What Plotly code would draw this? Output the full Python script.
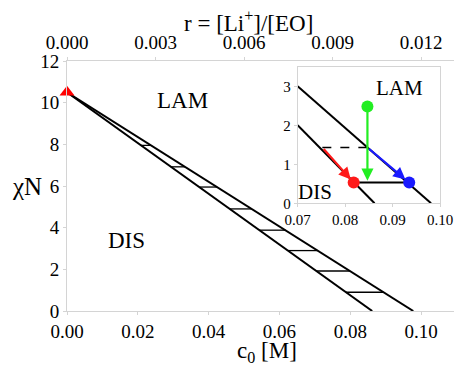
import plotly.graph_objects as go

# ---- data ----
# phase boundaries (main plot): c0 [M], chiN
lower_c = [0.0, 0.0862]
lower_chi = [10.5, 0.0]
upper_c = [0.0, 0.0978]
upper_chi = [10.5, 0.0]
# tie lines (main plot)
tie_chi = [0.9, 1.92, 2.9, 3.88, 4.9, 5.95, 6.92, 7.95]
tie_left = [0.0788, 0.0704, 0.0624, 0.0543, 0.0460, 0.0374, 0.0294, 0.0209]
tie_right = [0.0894, 0.0799, 0.0708, 0.0617, 0.0522, 0.0424, 0.0333, 0.0237]
crit_c = [0.0]
crit_chi = [10.5]

x_ticks = [0.0, 0.02, 0.04, 0.06, 0.08, 0.10]
r_ticks = [0.0, 0.003, 0.006, 0.009, 0.012]
y_ticks = [0, 2, 4, 6, 8, 10, 12]
r_per_c = 0.12

# inset
in_lower_c = [0.07, 0.0862]
in_lower_chi = [2.0, 0.0]
in_upper_c = [0.07, 0.0981]
in_upper_chi = [3.0, 0.0]
dash_c = [0.0752, 0.0847]
dash_chi = [1.43, 1.43]
tie_in_c = [0.0818, 0.0935]
tie_in_chi = [0.53, 0.53]
green_pt = (0.0847, 2.48)
red_pt = (0.0818, 0.53)
blue_pt = (0.0935, 0.53)
green_tip = (0.0847, 0.58)
red_start = (0.0752, 1.43)
red_tip = (0.0812, 0.61)
blue_start = (0.0847, 1.43)
blue_tip = (0.0927, 0.61)
in_x_ticks = [0.07, 0.08, 0.09, 0.10]
in_y_ticks = [0, 1, 2, 3]

FONT = "Liberation Serif"
GRAY = "#d4d4d4"

fig = go.Figure()
line = dict(color="black", width=2)
fig.add_trace(go.Scatter(x=lower_c, y=lower_chi, mode="lines", line=line, xaxis="x", yaxis="y"))
fig.add_trace(go.Scatter(x=upper_c, y=upper_chi, mode="lines", line=line, xaxis="x", yaxis="y"))
tx, ty = [], []
for l, r, c in zip(tie_left, tie_right, tie_chi):
    tx += [l, r, None]
    ty += [c, c, None]
fig.add_trace(go.Scatter(x=tx, y=ty, mode="lines", line=dict(color="black", width=1.3), xaxis="x", yaxis="y"))
fig.add_trace(go.Scatter(x=crit_c, y=crit_chi, mode="markers", cliponaxis=False,
                         marker=dict(symbol="triangle-up", size=13, color="#ff0000"), xaxis="x", yaxis="y"))
# dummy for top axis
fig.add_trace(go.Scatter(x=[0], y=[0], mode="markers", marker=dict(opacity=0), xaxis="x2", yaxis="y", hoverinfo="skip"))

# inset
fig.add_trace(go.Scatter(x=in_lower_c, y=in_lower_chi, mode="lines", line=line, xaxis="x3", yaxis="y3"))
fig.add_trace(go.Scatter(x=in_upper_c, y=in_upper_chi, mode="lines", line=line, xaxis="x3", yaxis="y3"))
fig.add_trace(go.Scatter(x=dash_c, y=dash_chi, mode="lines", line=dict(color="black", width=1.5, dash="dash"), xaxis="x3", yaxis="y3"))
fig.add_trace(go.Scatter(x=tie_in_c, y=tie_in_chi, mode="lines", line=line, xaxis="x3", yaxis="y3"))

arrows = [(red_start, red_tip, "#ff1a1a"), (blue_start, blue_tip, "#1a1aff"), (green_pt, green_tip, "#22ee22")]
for (s, t, col) in arrows:
    fig.add_annotation(x=t[0], y=t[1], ax=s[0], ay=s[1], xref="x3", yref="y3", axref="x3", ayref="y3",
                       showarrow=True, arrowhead=2, arrowsize=1.1, arrowwidth=2.2, arrowcolor=col, text="")

fig.add_trace(go.Scatter(x=[red_pt[0], blue_pt[0], green_pt[0]], y=[red_pt[1], blue_pt[1], green_pt[1]],
                         mode="markers", cliponaxis=False,
                         marker=dict(size=12, color=["#ff1a1a", "#1a1aff", "#22ee22"]), xaxis="x3", yaxis="y3"))

tickfont = dict(family=FONT, size=19, color="black")
common = dict(showgrid=False, zeroline=False, showline=True, linecolor=GRAY, linewidth=1,
              ticks="outside", ticklen=3, tickcolor=GRAY, automargin=False)
fig.update_layout(
    template="none",
    width=454, height=365, showlegend=False,
    margin=dict(l=67, r=0, t=61, b=54, autoexpand=False),
    paper_bgcolor="white", plot_bgcolor="white",
    font=dict(family=FONT, color="black", size=18),
    xaxis=dict(range=[0, 0.1093], tickvals=x_ticks, tickformat=".2f", tickfont=tickfont, domain=[0, 1],
               anchor="y", **common),
    xaxis2=dict(range=[0, 0.1093 * r_per_c], tickvals=r_ticks, tickformat=".3f", tickfont=tickfont,
                overlaying="x", side="top", anchor="y", **common),
    yaxis=dict(range=[0, 12], tickvals=y_ticks, tickfont=tickfont, domain=[0, 1], anchor="x", **common),
    xaxis3=dict(domain=[0.596, 0.964], anchor="y3", range=[0.07, 0.10], tickvals=in_x_ticks, tickformat=".2f",
                tickfont=dict(family=FONT, size=15, color="black"), mirror=True, **common),
    yaxis3=dict(domain=[0.431, 0.977], anchor="x3", range=[0, 3.5], tickvals=in_y_ticks,
                tickfont=dict(family=FONT, size=15, color="black"), mirror=True, **common),
)

# labels
fig.add_annotation(x=0.0327, y=10.09, xref="x", yref="y", text="LAM", showarrow=False,
                   font=dict(family=FONT, size=23, color="black"))
fig.add_annotation(x=0.0169, y=3.37, xref="x", yref="y", text="DIS", showarrow=False,
                   font=dict(family=FONT, size=23, color="black"))
fig.add_annotation(x=0.0915, y=2.96, xref="x3", yref="y3", text="LAM", showarrow=False,
                   font=dict(family=FONT, size=21, color="black"))
fig.add_annotation(x=0.0737, y=0.3, xref="x3", yref="y3", text="DIS", showarrow=False,
                   font=dict(family=FONT, size=21, color="black"))
fig.add_annotation(x=-0.148, y=0.5, xref="paper", yref="paper", text="χN", showarrow=False,
                   font=dict(family=FONT, size=25, color="black"))
fig.add_annotation(x=0.517, y=-0.164, xref="paper", yref="paper", text="c<sub>0</sub> [M]", showarrow=False,
                   yanchor="middle", font=dict(family=FONT, size=23, color="black"))
fig.add_annotation(x=0.47, y=1.158, xref="paper", yref="paper", text="r = [Li<sup>+</sup>]/[EO]", showarrow=False,
                   yanchor="middle", font=dict(family=FONT, size=23, color="black"))

fig.write_html("out.html", config={"displayModeBar": False},
               post_script="document.body.style.margin='0';document.body.style.padding='0';")
